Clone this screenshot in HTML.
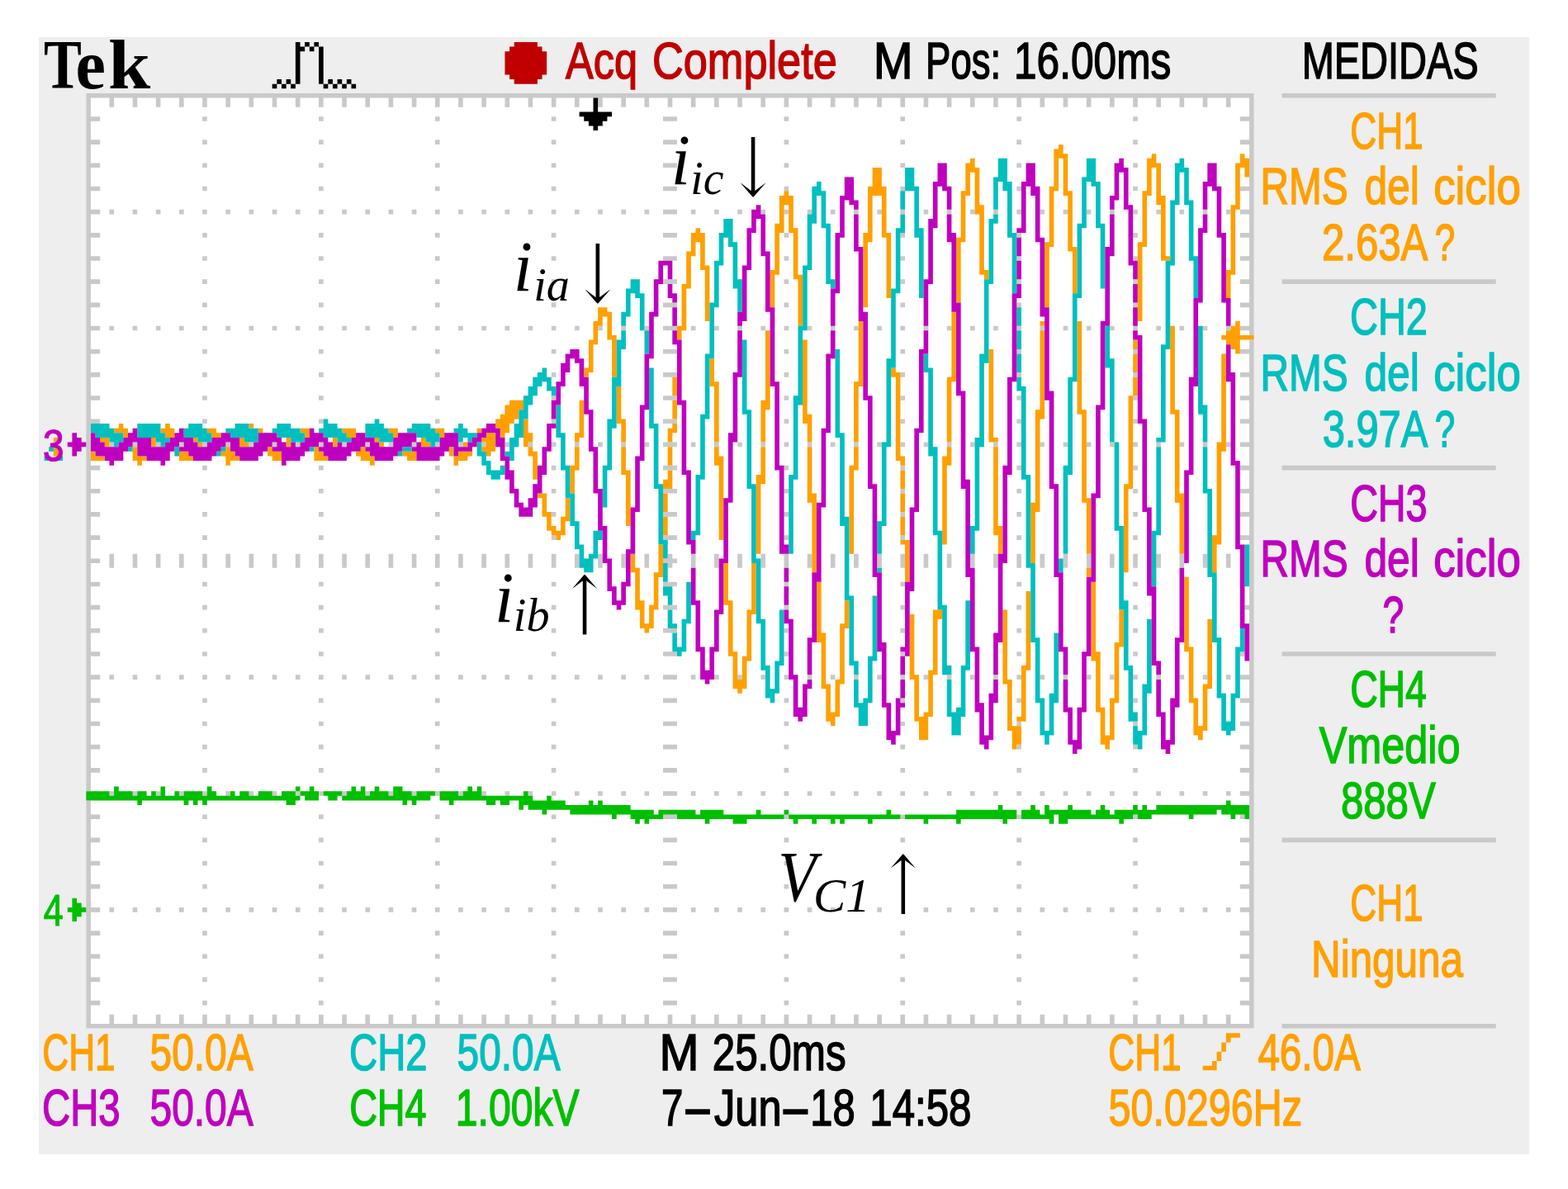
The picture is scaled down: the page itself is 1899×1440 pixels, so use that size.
<!DOCTYPE html>
<html lang="es"><head><meta charset="utf-8"><title>Tek</title>
<style>
html,body{margin:0;padding:0;background:#fff;overflow:hidden;}
svg{display:block;}
text{font-family:"Liberation Sans",sans-serif;font-size:63.4px;stroke-linejoin:miter;}
.ann{font-family:"Liberation Serif",serif;font-style:italic;stroke:none;}
.arr{font-family:"DejaVu Math TeX Gyre","DejaVu Sans",serif;}
.tek{font-family:"Liberation Serif",serif;font-weight:bold;stroke:none;}
</style></head>
<body>
<svg width="1899" height="1440" viewBox="0 0 1899 1440">
<rect x="47.06" y="44.9" width="1804.84" height="1352.9" fill="#eeeeee"/>
<g id="screen">
<g transform="translate(47.95 45.33) scale(5.635)">
<rect x="10" y="12" width="251" height="201" fill="#fff"/>
<path fill="#c9c9c9" d="M10 164h1v49h-1zM10 12h1v150h-1zM11 52h2v1h-2zM11 107h2v1h-2zM11 112h2v1h-2zM11 167h2v1h-2zM11 57h2v1h-2zM11 122h2v1h-2zM11 172h2v1h-2zM11 117h2v1h-2zM11 62h2v1h-2zM11 72h2v1h-2zM11 177h2v1h-2zM11 67h2v1h-2zM11 77h2v1h-2zM11 127h2v1h-2zM11 182h2v1h-2zM11 22h2v1h-2zM11 17h2v1h-2zM11 27h2v1h-2zM11 132h2v1h-2zM11 187h2v1h-2zM11 197h2v1h-2zM11 192h2v1h-2zM11 32h2v1h-2zM11 82h2v1h-2zM11 137h2v1h-2zM11 147h2v1h-2zM11 202h2v1h-2zM11 142h2v1h-2zM11 152h2v1h-2zM11 207h2v1h-2zM11 97h2v1h-2zM11 47h2v1h-2zM11 92h2v1h-2zM11 157h2v1h-2zM11 37h2v1h-2zM11 102h2v1h-2zM11 42h2v1h-2zM11 12h4v1h-4zM11 212h4v1h-4zM15 162h1v1h-1zM15 87h1v1h-1zM15 62h1v1h-1zM15 111h1v3h-1zM15 187h1v1h-1zM15 210h1v3h-1zM15 137h1v1h-1zM15 37h1v1h-1zM15 12h1v3h-1zM16 12h4v1h-4zM16 212h4v1h-4zM20 162h1v1h-1zM20 87h1v1h-1zM20 62h1v1h-1zM20 111h1v3h-1zM20 187h1v1h-1zM20 210h1v3h-1zM20 137h1v1h-1zM20 37h1v1h-1zM20 12h1v3h-1zM21 12h4v1h-4zM21 212h4v1h-4zM25 162h1v1h-1zM25 87h1v1h-1zM25 62h1v1h-1zM25 111h1v3h-1zM25 187h1v1h-1zM25 210h1v3h-1zM25 137h1v1h-1zM25 37h1v1h-1zM25 12h1v3h-1zM26 12h4v1h-4zM26 212h4v1h-4zM30 162h1v1h-1zM30 87h1v1h-1zM30 62h1v1h-1zM30 111h1v3h-1zM30 187h1v1h-1zM30 210h1v3h-1zM30 137h1v1h-1zM30 37h1v1h-1zM30 12h1v3h-1zM31 12h4v1h-4zM31 212h4v1h-4zM35 162h1v1h-1zM35 52h1v1h-1zM35 107h1v1h-1zM35 167h1v1h-1zM35 57h1v1h-1zM35 122h1v1h-1zM35 172h1v1h-1zM35 117h1v1h-1zM35 62h1v1h-1zM35 111h1v3h-1zM35 72h1v1h-1zM35 177h1v1h-1zM35 67h1v1h-1zM35 77h1v1h-1zM35 127h1v1h-1zM35 182h1v1h-1zM35 22h1v1h-1zM35 17h1v1h-1zM35 27h1v1h-1zM35 132h1v1h-1zM35 187h1v1h-1zM35 197h1v1h-1zM35 192h1v1h-1zM35 32h1v1h-1zM35 82h1v1h-1zM35 137h1v1h-1zM35 147h1v1h-1zM35 202h1v1h-1zM35 12h1v3h-1zM35 87h1v1h-1zM35 142h1v1h-1zM35 152h1v1h-1zM35 207h1v1h-1zM35 97h1v1h-1zM35 210h1v3h-1zM35 47h1v1h-1zM35 92h1v1h-1zM35 157h1v1h-1zM35 37h1v1h-1zM35 102h1v1h-1zM35 42h1v1h-1zM36 12h4v1h-4zM36 212h4v1h-4zM40 162h1v1h-1zM40 87h1v1h-1zM40 62h1v1h-1zM40 111h1v3h-1zM40 187h1v1h-1zM40 210h1v3h-1zM40 137h1v1h-1zM40 37h1v1h-1zM40 12h1v3h-1zM41 12h4v1h-4zM41 212h4v1h-4zM45 162h1v1h-1zM45 87h1v1h-1zM45 62h1v1h-1zM45 111h1v3h-1zM45 187h1v1h-1zM45 210h1v3h-1zM45 137h1v1h-1zM45 37h1v1h-1zM45 12h1v3h-1zM46 12h4v1h-4zM46 212h4v1h-4zM50 162h1v1h-1zM50 87h1v1h-1zM50 62h1v1h-1zM50 111h1v3h-1zM50 187h1v1h-1zM50 210h1v3h-1zM50 137h1v1h-1zM50 37h1v1h-1zM50 12h1v3h-1zM51 12h4v1h-4zM51 212h4v1h-4zM55 162h1v1h-1zM55 87h1v1h-1zM55 62h1v1h-1zM55 111h1v3h-1zM55 187h1v1h-1zM55 210h1v3h-1zM55 137h1v1h-1zM55 37h1v1h-1zM55 12h1v3h-1zM56 12h4v1h-4zM56 212h4v1h-4zM60 162h1v1h-1zM60 52h1v1h-1zM60 107h1v1h-1zM60 167h1v1h-1zM60 57h1v1h-1zM60 122h1v1h-1zM60 172h1v1h-1zM60 117h1v1h-1zM60 62h1v1h-1zM60 111h1v3h-1zM60 72h1v1h-1zM60 177h1v1h-1zM60 67h1v1h-1zM60 77h1v1h-1zM60 127h1v1h-1zM60 182h1v1h-1zM60 22h1v1h-1zM60 17h1v1h-1zM60 27h1v1h-1zM60 132h1v1h-1zM60 187h1v1h-1zM60 197h1v1h-1zM60 192h1v1h-1zM60 32h1v1h-1zM60 82h1v1h-1zM60 137h1v1h-1zM60 147h1v1h-1zM60 202h1v1h-1zM60 12h1v3h-1zM60 87h1v1h-1zM60 142h1v1h-1zM60 152h1v1h-1zM60 207h1v1h-1zM60 97h1v1h-1zM60 210h1v3h-1zM60 47h1v1h-1zM60 92h1v1h-1zM60 157h1v1h-1zM60 37h1v1h-1zM60 102h1v1h-1zM60 42h1v1h-1zM61 12h4v1h-4zM61 212h4v1h-4zM65 162h1v1h-1zM65 87h1v1h-1zM65 62h1v1h-1zM65 111h1v3h-1zM65 187h1v1h-1zM65 210h1v3h-1zM65 137h1v1h-1zM65 37h1v1h-1zM65 12h1v3h-1zM66 12h4v1h-4zM66 212h4v1h-4zM70 162h1v1h-1zM70 87h1v1h-1zM70 62h1v1h-1zM70 111h1v3h-1zM70 187h1v1h-1zM70 210h1v3h-1zM70 137h1v1h-1zM70 37h1v1h-1zM70 12h1v3h-1zM71 12h4v1h-4zM71 212h4v1h-4zM75 162h1v1h-1zM75 87h1v1h-1zM75 62h1v1h-1zM75 111h1v3h-1zM75 187h1v1h-1zM75 210h1v3h-1zM75 137h1v1h-1zM75 37h1v1h-1zM75 12h1v3h-1zM76 12h4v1h-4zM76 212h4v1h-4zM80 162h1v1h-1zM80 87h1v1h-1zM80 62h1v1h-1zM80 111h1v3h-1zM80 187h1v1h-1zM80 210h1v3h-1zM80 137h1v1h-1zM80 37h1v1h-1zM80 12h1v3h-1zM81 12h4v1h-4zM81 212h4v1h-4zM85 162h1v1h-1zM85 52h1v1h-1zM85 107h1v1h-1zM85 167h1v1h-1zM85 57h1v1h-1zM85 122h1v1h-1zM85 172h1v1h-1zM85 117h1v1h-1zM85 62h1v1h-1zM85 111h1v3h-1zM85 72h1v1h-1zM85 177h1v1h-1zM85 67h1v1h-1zM85 77h1v1h-1zM85 127h1v1h-1zM85 182h1v1h-1zM85 22h1v1h-1zM85 17h1v1h-1zM85 27h1v1h-1zM85 132h1v1h-1zM85 187h1v1h-1zM85 197h1v1h-1zM85 192h1v1h-1zM85 32h1v1h-1zM85 82h1v1h-1zM85 137h1v1h-1zM85 147h1v1h-1zM85 202h1v1h-1zM85 12h1v3h-1zM85 87h1v1h-1zM85 142h1v1h-1zM85 152h1v1h-1zM85 207h1v1h-1zM85 97h1v1h-1zM85 210h1v3h-1zM85 47h1v1h-1zM85 92h1v1h-1zM85 157h1v1h-1zM85 37h1v1h-1zM85 102h1v1h-1zM85 42h1v1h-1zM86 12h4v1h-4zM86 212h4v1h-4zM90 162h1v1h-1zM90 87h1v1h-1zM90 62h1v1h-1zM90 111h1v3h-1zM90 187h1v1h-1zM90 210h1v3h-1zM90 137h1v1h-1zM90 37h1v1h-1zM90 12h1v3h-1zM91 12h4v1h-4zM91 212h4v1h-4zM95 162h1v1h-1zM95 87h1v1h-1zM95 62h1v1h-1zM95 111h1v3h-1zM95 187h1v1h-1zM95 210h1v3h-1zM95 137h1v1h-1zM95 37h1v1h-1zM95 12h1v3h-1zM96 12h4v1h-4zM96 212h4v1h-4zM100 162h1v1h-1zM100 87h1v1h-1zM100 62h1v1h-1zM100 111h1v3h-1zM100 187h1v1h-1zM100 210h1v3h-1zM100 137h1v1h-1zM100 37h1v1h-1zM100 12h1v3h-1zM101 12h4v1h-4zM101 212h4v1h-4zM105 162h1v1h-1zM105 87h1v1h-1zM105 62h1v1h-1zM105 111h1v3h-1zM105 187h1v1h-1zM105 210h1v3h-1zM105 137h1v1h-1zM105 37h1v1h-1zM105 12h1v3h-1zM106 12h4v1h-4zM106 212h4v1h-4zM110 162h1v1h-1zM110 52h1v1h-1zM110 107h1v1h-1zM110 167h1v1h-1zM110 57h1v1h-1zM110 122h1v1h-1zM110 172h1v1h-1zM110 117h1v1h-1zM110 62h1v1h-1zM110 111h1v3h-1zM110 72h1v1h-1zM110 177h1v1h-1zM110 67h1v1h-1zM110 77h1v1h-1zM110 127h1v1h-1zM110 182h1v1h-1zM110 22h1v1h-1zM110 17h1v1h-1zM110 27h1v1h-1zM110 132h1v1h-1zM110 187h1v1h-1zM110 197h1v1h-1zM110 192h1v1h-1zM110 32h1v1h-1zM110 82h1v1h-1zM110 137h1v1h-1zM110 147h1v1h-1zM110 202h1v1h-1zM110 12h1v3h-1zM110 87h1v1h-1zM110 142h1v1h-1zM110 152h1v1h-1zM110 207h1v1h-1zM110 97h1v1h-1zM110 210h1v3h-1zM110 47h1v1h-1zM110 92h1v1h-1zM110 157h1v1h-1zM110 37h1v1h-1zM110 102h1v1h-1zM110 42h1v1h-1zM111 12h4v1h-4zM111 212h4v1h-4zM115 162h1v1h-1zM115 87h1v1h-1zM115 62h1v1h-1zM115 111h1v3h-1zM115 187h1v1h-1zM115 210h1v3h-1zM115 137h1v1h-1zM115 37h1v1h-1zM115 12h1v3h-1zM116 12h4v1h-4zM116 212h4v1h-4zM120 162h1v1h-1zM120 87h1v1h-1zM120 62h1v1h-1zM120 111h1v3h-1zM120 187h1v1h-1zM120 210h1v3h-1zM120 137h1v1h-1zM120 37h1v1h-1zM120 12h1v3h-1zM121 12h4v1h-4zM121 212h4v1h-4zM125 162h1v1h-1zM125 87h1v1h-1zM125 62h1v1h-1zM125 111h1v3h-1zM125 187h1v1h-1zM125 210h1v3h-1zM125 137h1v1h-1zM125 37h1v1h-1zM125 12h1v3h-1zM126 12h4v1h-4zM126 212h4v1h-4zM130 162h1v1h-1zM130 87h1v1h-1zM130 62h1v1h-1zM130 111h1v3h-1zM130 187h1v1h-1zM130 210h1v3h-1zM130 137h1v1h-1zM130 37h1v1h-1zM130 12h1v3h-1zM131 12h4v1h-4zM131 212h4v1h-4zM134 112h1v1h-1zM135 111h1v3h-1zM135 12h1v3h-1zM135 210h1v3h-1zM134 162h3v1h-3zM134 52h3v1h-3zM134 107h3v1h-3zM134 167h3v1h-3zM134 57h3v1h-3zM134 122h3v1h-3zM134 172h3v1h-3zM134 117h3v1h-3zM134 62h3v1h-3zM134 72h3v1h-3zM134 177h3v1h-3zM134 67h3v1h-3zM134 77h3v1h-3zM134 127h3v1h-3zM134 182h3v1h-3zM134 22h3v1h-3zM134 17h3v1h-3zM134 27h3v1h-3zM134 132h3v1h-3zM134 187h3v1h-3zM134 197h3v1h-3zM134 192h3v1h-3zM134 32h3v1h-3zM134 82h3v1h-3zM134 137h3v1h-3zM134 147h3v1h-3zM134 202h3v1h-3zM134 87h3v1h-3zM134 142h3v1h-3zM134 152h3v1h-3zM134 207h3v1h-3zM134 97h3v1h-3zM134 47h3v1h-3zM134 92h3v1h-3zM134 157h3v1h-3zM134 37h3v1h-3zM134 102h3v1h-3zM134 42h3v1h-3zM136 112h1v1h-1zM136 12h4v1h-4zM136 212h4v1h-4zM140 162h1v1h-1zM140 87h1v1h-1zM140 62h1v1h-1zM140 111h1v3h-1zM140 187h1v1h-1zM140 210h1v3h-1zM140 137h1v1h-1zM140 37h1v1h-1zM140 12h1v3h-1zM141 12h4v1h-4zM141 212h4v1h-4zM145 162h1v1h-1zM145 87h1v1h-1zM145 62h1v1h-1zM145 111h1v3h-1zM145 187h1v1h-1zM145 210h1v3h-1zM145 137h1v1h-1zM145 37h1v1h-1zM145 12h1v3h-1zM146 12h4v1h-4zM146 212h4v1h-4zM150 162h1v1h-1zM150 87h1v1h-1zM150 62h1v1h-1zM150 111h1v3h-1zM150 187h1v1h-1zM150 210h1v3h-1zM150 137h1v1h-1zM150 37h1v1h-1zM150 12h1v3h-1zM151 12h4v1h-4zM151 212h4v1h-4zM155 162h1v1h-1zM155 87h1v1h-1zM155 62h1v1h-1zM155 111h1v3h-1zM155 187h1v1h-1zM155 210h1v3h-1zM155 137h1v1h-1zM155 37h1v1h-1zM155 12h1v3h-1zM156 12h4v1h-4zM156 212h4v1h-4zM160 162h1v1h-1zM160 52h1v1h-1zM160 107h1v1h-1zM160 167h1v1h-1zM160 57h1v1h-1zM160 122h1v1h-1zM160 172h1v1h-1zM160 117h1v1h-1zM160 62h1v1h-1zM160 111h1v3h-1zM160 72h1v1h-1zM160 177h1v1h-1zM160 67h1v1h-1zM160 77h1v1h-1zM160 127h1v1h-1zM160 182h1v1h-1zM160 22h1v1h-1zM160 17h1v1h-1zM160 27h1v1h-1zM160 132h1v1h-1zM160 187h1v1h-1zM160 197h1v1h-1zM160 192h1v1h-1zM160 32h1v1h-1zM160 82h1v1h-1zM160 137h1v1h-1zM160 147h1v1h-1zM160 202h1v1h-1zM160 12h1v3h-1zM160 87h1v1h-1zM160 142h1v1h-1zM160 152h1v1h-1zM160 207h1v1h-1zM160 97h1v1h-1zM160 210h1v3h-1zM160 47h1v1h-1zM160 92h1v1h-1zM160 157h1v1h-1zM160 37h1v1h-1zM160 102h1v1h-1zM160 42h1v1h-1zM161 12h4v1h-4zM161 212h4v1h-4zM165 162h1v1h-1zM165 87h1v1h-1zM165 62h1v1h-1zM165 111h1v3h-1zM165 187h1v1h-1zM165 210h1v3h-1zM165 137h1v1h-1zM165 37h1v1h-1zM165 12h1v3h-1zM166 12h4v1h-4zM166 212h4v1h-4zM170 162h1v1h-1zM170 87h1v1h-1zM170 62h1v1h-1zM170 111h1v3h-1zM170 187h1v1h-1zM170 210h1v3h-1zM170 137h1v1h-1zM170 37h1v1h-1zM170 12h1v3h-1zM171 12h4v1h-4zM171 212h4v1h-4zM175 162h1v1h-1zM175 87h1v1h-1zM175 62h1v1h-1zM175 111h1v3h-1zM175 187h1v1h-1zM175 210h1v3h-1zM175 137h1v1h-1zM175 37h1v1h-1zM175 12h1v3h-1zM176 12h4v1h-4zM176 212h4v1h-4zM180 162h1v1h-1zM180 87h1v1h-1zM180 62h1v1h-1zM180 111h1v3h-1zM180 187h1v1h-1zM180 210h1v3h-1zM180 137h1v1h-1zM180 37h1v1h-1zM180 12h1v3h-1zM181 12h4v1h-4zM181 212h4v1h-4zM185 162h1v1h-1zM185 52h1v1h-1zM185 107h1v1h-1zM185 167h1v1h-1zM185 57h1v1h-1zM185 122h1v1h-1zM185 172h1v1h-1zM185 117h1v1h-1zM185 62h1v1h-1zM185 111h1v3h-1zM185 72h1v1h-1zM185 177h1v1h-1zM185 67h1v1h-1zM185 77h1v1h-1zM185 127h1v1h-1zM185 182h1v1h-1zM185 22h1v1h-1zM185 17h1v1h-1zM185 27h1v1h-1zM185 132h1v1h-1zM185 187h1v1h-1zM185 197h1v1h-1zM185 192h1v1h-1zM185 32h1v1h-1zM185 82h1v1h-1zM185 137h1v1h-1zM185 147h1v1h-1zM185 202h1v1h-1zM185 12h1v3h-1zM185 87h1v1h-1zM185 142h1v1h-1zM185 152h1v1h-1zM185 207h1v1h-1zM185 97h1v1h-1zM185 210h1v3h-1zM185 47h1v1h-1zM185 92h1v1h-1zM185 157h1v1h-1zM185 37h1v1h-1zM185 102h1v1h-1zM185 42h1v1h-1zM186 12h4v1h-4zM186 212h4v1h-4zM190 162h1v1h-1zM190 87h1v1h-1zM190 62h1v1h-1zM190 111h1v3h-1zM190 187h1v1h-1zM190 210h1v3h-1zM190 137h1v1h-1zM190 37h1v1h-1zM190 12h1v3h-1zM191 12h4v1h-4zM191 212h4v1h-4zM195 162h1v1h-1zM195 87h1v1h-1zM195 62h1v1h-1zM195 111h1v3h-1zM195 187h1v1h-1zM195 210h1v3h-1zM195 137h1v1h-1zM195 37h1v1h-1zM195 12h1v3h-1zM196 12h4v1h-4zM196 212h4v1h-4zM200 162h1v1h-1zM200 87h1v1h-1zM200 62h1v1h-1zM200 111h1v3h-1zM200 187h1v1h-1zM200 210h1v3h-1zM200 137h1v1h-1zM200 37h1v1h-1zM200 12h1v3h-1zM201 12h4v1h-4zM201 212h4v1h-4zM205 162h1v1h-1zM205 87h1v1h-1zM205 62h1v1h-1zM205 111h1v3h-1zM205 187h1v1h-1zM205 210h1v3h-1zM205 137h1v1h-1zM205 37h1v1h-1zM205 12h1v3h-1zM206 12h4v1h-4zM206 212h4v1h-4zM210 162h1v1h-1zM210 52h1v1h-1zM210 107h1v1h-1zM210 167h1v1h-1zM210 57h1v1h-1zM210 122h1v1h-1zM210 172h1v1h-1zM210 117h1v1h-1zM210 62h1v1h-1zM210 111h1v3h-1zM210 72h1v1h-1zM210 177h1v1h-1zM210 67h1v1h-1zM210 77h1v1h-1zM210 127h1v1h-1zM210 182h1v1h-1zM210 22h1v1h-1zM210 17h1v1h-1zM210 27h1v1h-1zM210 132h1v1h-1zM210 187h1v1h-1zM210 197h1v1h-1zM210 192h1v1h-1zM210 32h1v1h-1zM210 82h1v1h-1zM210 137h1v1h-1zM210 147h1v1h-1zM210 202h1v1h-1zM210 12h1v3h-1zM210 87h1v1h-1zM210 142h1v1h-1zM210 152h1v1h-1zM210 207h1v1h-1zM210 97h1v1h-1zM210 210h1v3h-1zM210 47h1v1h-1zM210 92h1v1h-1zM210 157h1v1h-1zM210 37h1v1h-1zM210 102h1v1h-1zM210 42h1v1h-1zM211 12h4v1h-4zM211 212h4v1h-4zM215 162h1v1h-1zM215 87h1v1h-1zM215 62h1v1h-1zM215 111h1v3h-1zM215 187h1v1h-1zM215 210h1v3h-1zM215 137h1v1h-1zM215 37h1v1h-1zM215 12h1v3h-1zM216 12h4v1h-4zM216 212h4v1h-4zM220 162h1v1h-1zM220 87h1v1h-1zM220 62h1v1h-1zM220 111h1v3h-1zM220 187h1v1h-1zM220 210h1v3h-1zM220 137h1v1h-1zM220 37h1v1h-1zM220 12h1v3h-1zM221 12h4v1h-4zM221 212h4v1h-4zM225 162h1v1h-1zM225 87h1v1h-1zM225 62h1v1h-1zM225 111h1v3h-1zM225 187h1v1h-1zM225 210h1v3h-1zM225 137h1v1h-1zM225 37h1v1h-1zM225 12h1v3h-1zM226 12h4v1h-4zM226 212h4v1h-4zM230 162h1v1h-1zM230 87h1v1h-1zM230 62h1v1h-1zM230 111h1v3h-1zM230 187h1v1h-1zM230 210h1v3h-1zM230 137h1v1h-1zM230 37h1v1h-1zM230 12h1v3h-1zM231 12h4v1h-4zM231 212h4v1h-4zM235 162h1v1h-1zM235 52h1v1h-1zM235 107h1v1h-1zM235 167h1v1h-1zM235 57h1v1h-1zM235 122h1v1h-1zM235 172h1v1h-1zM235 117h1v1h-1zM235 62h1v1h-1zM235 111h1v3h-1zM235 72h1v1h-1zM235 177h1v1h-1zM235 67h1v1h-1zM235 77h1v1h-1zM235 127h1v1h-1zM235 182h1v1h-1zM235 22h1v1h-1zM235 17h1v1h-1zM235 27h1v1h-1zM235 132h1v1h-1zM235 187h1v1h-1zM235 197h1v1h-1zM235 192h1v1h-1zM235 32h1v1h-1zM235 82h1v1h-1zM235 137h1v1h-1zM235 147h1v1h-1zM235 202h1v1h-1zM235 12h1v3h-1zM235 87h1v1h-1zM235 142h1v1h-1zM235 152h1v1h-1zM235 207h1v1h-1zM235 97h1v1h-1zM235 210h1v3h-1zM235 47h1v1h-1zM235 92h1v1h-1zM235 157h1v1h-1zM235 37h1v1h-1zM235 102h1v1h-1zM235 42h1v1h-1zM236 12h4v1h-4zM236 212h4v1h-4zM240 162h1v1h-1zM240 87h1v1h-1zM240 62h1v1h-1zM240 111h1v3h-1zM240 187h1v1h-1zM240 210h1v3h-1zM240 137h1v1h-1zM240 37h1v1h-1zM240 12h1v3h-1zM241 12h4v1h-4zM241 212h4v1h-4zM245 162h1v1h-1zM245 87h1v1h-1zM245 62h1v1h-1zM245 111h1v3h-1zM245 187h1v1h-1zM245 210h1v3h-1zM245 137h1v1h-1zM245 37h1v1h-1zM245 12h1v3h-1zM246 12h4v1h-4zM246 212h4v1h-4zM250 162h1v1h-1zM250 87h1v1h-1zM250 62h1v1h-1zM250 111h1v3h-1zM250 187h1v1h-1zM250 210h1v3h-1zM250 137h1v1h-1zM250 37h1v1h-1zM250 12h1v3h-1zM251 12h4v1h-4zM251 212h4v1h-4zM255 162h1v1h-1zM255 87h1v1h-1zM255 62h1v1h-1zM255 111h1v3h-1zM255 187h1v1h-1zM255 210h1v3h-1zM255 137h1v1h-1zM255 37h1v1h-1zM255 12h1v3h-1zM258 167h1v1h-1zM258 132h1v1h-1zM256 12h4v1h-4zM256 212h4v1h-4zM258 162h2v1h-2zM258 52h2v1h-2zM258 107h2v1h-2zM258 57h2v1h-2zM258 172h2v1h-2zM258 62h2v1h-2zM258 72h2v1h-2zM258 177h2v1h-2zM258 67h2v1h-2zM258 77h2v1h-2zM258 182h2v1h-2zM258 22h2v1h-2zM258 17h2v1h-2zM258 187h2v1h-2zM258 197h2v1h-2zM258 192h2v1h-2zM258 32h2v1h-2zM258 82h2v1h-2zM258 137h2v1h-2zM258 147h2v1h-2zM258 202h2v1h-2zM258 87h2v1h-2zM258 142h2v1h-2zM258 152h2v1h-2zM258 207h2v1h-2zM258 97h2v1h-2zM258 47h2v1h-2zM258 92h2v1h-2zM258 157h2v1h-2zM258 37h2v1h-2zM258 102h2v1h-2zM258 42h2v1h-2zM259 122h1v1h-1zM260 12h1v52h-1zM260 65h1v148h-1zM267 132h46v1h-46zM267 52h46v1h-46zM267 92h46v1h-46zM267 12h46v1h-46zM267 212h46v1h-46zM267 172h46v1h-46z"/>
<path fill="#ffa000" d="M3 88h1v2h-1zM3 86h1v1h-1zM11 89h1v2h-1zM12 90h2v1h-2zM13 86h1v1h-1zM14 86h1v2h-1zM16 84h1v1h-1zM17 83h1v2h-1zM18 84h1v2h-1zM20 88h1v3h-1zM21 90h1v2h-1zM22 90h1v1h-1zM24 86h1v2h-1zM26 84h1v1h-1zM27 83h1v3h-1zM28 84h1v2h-1zM30 89h2v2h-2zM32 90h1v1h-1zM33 86h1v1h-1zM34 87h1v1h-1zM36 84h1v1h-1zM37 84h1v2h-1zM38 85h1v1h-1zM39 89h1v1h-1zM40 88h1v4h-1zM41 89h1v2h-1zM42 90h1v1h-1zM43 86h1v2h-1zM44 87h1v1h-1zM45 83h1v1h-1zM47 84h1v1h-1zM49 88h1v2h-1zM50 89h2v2h-2zM53 86h1v2h-1zM56 84h1v1h-1zM57 84h1v2h-1zM59 88h1v3h-1zM60 89h1v2h-1zM61 90h1v1h-1zM63 86h1v2h-1zM65 84h1v1h-1zM66 84h2v2h-2zM68 89h1v1h-1zM69 88h1v3h-1zM70 89h1v2h-1zM71 90h1v2h-1zM72 86h1v1h-1zM73 87h1v1h-1zM75 84h1v1h-1zM76 84h1v2h-1zM78 89h1v1h-1zM79 89h2v2h-2zM82 86h1v2h-1zM83 87h1v1h-1zM85 84h1v1h-1zM86 84h1v2h-1zM88 88h1v2h-1zM89 90h1v2h-1zM90 89h2v2h-2zM91 87h1v1h-1zM92 89h1v1h-1zM94 84h1v1h-1zM95 86h1v1h-1zM95 88h1v1h-1zM96 85h1v5h-1zM97 85h1v4h-1zM98 82h1v2h-1zM99 81h1v5h-1zM100 79h1v6h-1zM101 78h1v5h-1zM102 78h1v4h-1zM103 78h1v2h-1zM104 82h1v6h-1zM105 88h1v2h-1zM105 85h1v2h-1zM106 89h1v6h-1zM107 98h1v1h-1zM108 98h1v5h-1zM109 102h1v4h-1zM110 105h1v2h-1zM111 106h1v2h-1zM112 103h1v4h-1zM113 99h1v5h-1zM114 92h1v6h-1zM115 85h1v2h-1zM115 88h1v5h-1zM116 78h1v8h-1zM117 71h1v2h-1zM118 65h1v7h-1zM119 61h1v5h-1zM120 58h1v4h-1zM121 58h1v2h-1zM122 59h1v6h-1zM123 64h1v9h-1zM124 75h1v8h-1zM125 82h1v5h-1zM125 88h1v6h-1zM126 93h1v12h-1zM127 111h1v4h-1zM128 114h1v9h-1zM129 121h1v6h-1zM130 126h1v2h-1zM131 122h1v5h-1zM132 115h1v8h-1zM133 109h1v7h-1zM134 103h1v4h-1zM134 98h1v4h-1zM134 95h1v2h-1zM135 84h1v3h-1zM135 93h1v4h-1zM135 88h1v4h-1zM136 73h1v4h-1zM136 83h1v2h-1zM136 78h1v4h-1zM137 62h1v3h-1zM138 53h1v10h-1zM139 46h1v8h-1zM140 42h1v5h-1zM141 41h1v3h-1zM142 42h1v8h-1zM143 49h1v12h-1zM144 69h1v6h-1zM145 74h1v13h-1zM145 88h1v4h-1zM146 90h1v18h-1zM147 113h1v9h-1zM148 121h1v12h-1zM149 132h1v8h-1zM150 138h1v3h-1zM151 133h1v7h-1zM152 123h1v11h-1zM153 113h1v11h-1zM154 94h1v17h-1zM155 88h1v8h-1zM155 78h1v9h-1zM156 63h1v17h-1zM157 50h1v8h-1zM158 40h1v11h-1zM159 34h1v8h-1zM160 33h1v3h-1zM161 34h1v8h-1zM162 41h1v11h-1zM163 51h1v11h-1zM164 65h1v18h-1zM165 88h1v12h-1zM165 81h1v6h-1zM166 98h1v17h-1zM167 117h1v13h-1zM168 128h1v12h-1zM169 139h1v8h-1zM170 145h1v3h-1zM171 138h1v8h-1zM172 126h1v13h-1zM173 121h1v6h-1zM174 92h1v19h-1zM175 74h1v13h-1zM175 88h1v5h-1zM176 61h1v14h-1zM177 42h1v16h-1zM178 32h1v12h-1zM179 28h2v6h-2zM181 32h1v11h-1zM182 42h1v14h-1zM183 71h1v2h-1zM184 72h1v19h-1zM185 90h1v2h-1zM185 98h1v4h-1zM185 108h1v1h-1zM185 103h1v4h-1zM185 93h1v4h-1zM186 108h1v9h-1zM187 124h1v14h-1zM188 137h1v10h-1zM189 146h1v5h-1zM190 145h1v6h-1zM191 136h1v10h-1zM192 123h1v14h-1zM193 123h1v2h-1zM194 90h1v19h-1zM195 88h1v4h-1zM195 73h1v14h-1zM196 59h1v15h-1zM197 43h1v14h-1zM198 33h1v11h-1zM199 27h1v7h-1zM200 26h1v3h-1zM201 28h1v10h-1zM202 36h1v15h-1zM203 50h1v2h-1zM204 67h1v20h-1zM205 88h1v19h-1zM205 86h1v1h-1zM206 105h1v6h-1zM207 123h1v16h-1zM208 138h1v11h-1zM209 148h1v5h-1zM210 148h1v4h-1zM210 146h1v1h-1zM211 135h1v12h-1zM212 119h1v17h-1zM213 100h1v13h-1zM214 80h1v22h-1zM215 61h1v1h-1zM215 63h1v19h-1zM216 44h1v14h-1zM217 32h1v13h-1zM218 24h1v9h-1zM219 23h1v3h-1zM220 25h1v9h-1zM221 33h1v13h-1zM222 45h1v10h-1zM223 61h1v20h-1zM224 80h1v20h-1zM225 114h1v2h-1zM225 99h1v12h-1zM226 117h1v17h-1zM227 132h1v13h-1zM228 144h1v8h-1zM229 150h1v3h-1zM230 142h1v9h-1zM231 130h1v13h-1zM232 123h1v8h-1zM233 96h1v19h-1zM234 77h1v20h-1zM235 73h1v4h-1zM235 65h1v2h-1zM235 68h1v4h-1zM236 44h1v17h-1zM237 33h1v12h-1zM238 26h1v8h-1zM239 25h1v3h-1zM240 27h1v9h-1zM241 34h1v14h-1zM242 47h1v1h-1zM243 62h1v19h-1zM244 80h1v20h-1zM245 98h1v13h-1zM246 116h1v16h-1zM247 131h1v12h-1zM248 142h1v8h-1zM249 148h1v3h-1zM250 139h1v10h-1zM250 221h2v1h-2zM251 125h1v15h-1zM252 220h1v2h-1zM252 107h1v8h-1zM253 87h1v22h-1zM253 218h1v2h-1zM254 68h1v21h-1zM254 64h1v1h-1zM254 216h1v2h-1zM255 50h1v6h-1zM255 63h1v3h-1zM255 214h1v2h-1zM256 62h1v5h-1zM256 36h1v15h-1zM256 214h2v1h-2zM257 27h1v10h-1zM257 61h1v7h-1zM258 25h1v3h-1zM259 26h1v4h-1zM258 64h3v1h-3z"/>
<path fill="#00bfbf" d="M1 90h1v1h-1zM2 88h1v1h-1zM4 90h1v1h-1zM11 83h1v2h-1zM12 83h3v3h-3zM15 84h1v3h-1zM16 85h1v3h-1zM17 85h1v2h-1zM19 88h1v1h-1zM21 83h4v3h-4zM25 83h1v4h-1zM26 85h1v3h-1zM27 86h1v1h-1zM29 88h1v2h-1zM31 84h1v2h-1zM32 83h2v3h-2zM34 83h1v4h-1zM35 84h1v3h-1zM36 85h1v2h-1zM38 89h1v1h-1zM39 88h1v1h-1zM40 84h1v1h-1zM41 84h1v2h-1zM42 83h2v3h-2zM44 83h1v4h-1zM45 84h2v3h-2zM50 84h1v1h-1zM51 83h3v3h-3zM54 84h2v3h-2zM56 85h1v2h-1zM58 88h1v1h-1zM60 84h1v1h-1zM61 82h1v4h-1zM62 83h2v3h-2zM64 84h1v3h-1zM65 85h1v2h-1zM66 86h1v1h-1zM70 83h2v3h-2zM72 82h1v4h-1zM73 83h1v4h-1zM74 84h1v3h-1zM75 85h1v2h-1zM77 89h1v1h-1zM78 88h2v1h-2zM79 84h1v1h-1zM80 83h1v2h-1zM81 83h2v3h-2zM83 83h1v4h-1zM84 84h1v4h-1zM85 85h1v2h-1zM89 84h1v1h-1zM90 83h1v4h-1zM91 84h1v2h-1zM92 85h1v2h-1zM93 85h1v1h-1zM94 87h1v3h-1zM95 89h1v3h-1zM96 91h1v3h-1zM97 93h2v2h-2zM99 92h1v2h-1zM100 89h1v1h-1zM101 86h1v5h-1zM102 83h1v5h-1zM103 80h1v6h-1zM104 77h1v5h-1zM105 75h1v4h-1zM106 73h1v4h-1zM107 72h1v3h-1zM108 71h1v3h-1zM109 73h1v3h-1zM110 75h1v2h-1zM111 79h1v7h-1zM112 85h1v8h-1zM113 92h1v7h-1zM114 98h1v7h-1zM115 104h1v6h-1zM116 109h1v5h-1zM117 112h1v3h-1zM118 111h1v4h-1zM119 106h1v6h-1zM120 106h1v2h-1zM121 92h1v9h-1zM122 82h1v11h-1zM123 73h1v11h-1zM124 65h1v10h-1zM125 59h1v3h-1zM125 63h1v4h-1zM126 54h1v6h-1zM127 52h1v3h-1zM128 52h1v4h-1zM129 55h1v8h-1zM130 63h1v5h-1zM131 71h1v13h-1zM132 83h1v14h-1zM133 96h1v13h-1zM134 113h1v4h-1zM134 108h1v4h-1zM134 118h1v2h-1zM135 123h1v4h-1zM135 118h1v4h-1zM136 128h1v4h-1zM136 126h1v1h-1zM137 131h1v2h-1zM138 125h1v7h-1zM139 117h1v9h-1zM140 106h1v2h-1zM141 94h1v13h-1zM142 81h1v14h-1zM143 68h1v14h-1zM144 57h1v12h-1zM145 48h1v10h-1zM146 42h1v7h-1zM147 39h1v4h-1zM148 39h1v6h-1zM149 44h1v10h-1zM150 52h1v7h-1zM151 65h1v16h-1zM152 80h1v17h-1zM153 96h1v17h-1zM154 112h1v14h-1zM155 125h1v11h-1zM156 135h1v7h-1zM157 140h1v3h-1zM158 134h1v7h-1zM159 123h1v12h-1zM161 94h1v17h-1zM162 77h1v18h-1zM163 62h1v17h-1zM164 49h1v14h-1zM165 38h1v12h-1zM166 32h1v8h-1zM167 31h1v3h-1zM168 33h1v8h-1zM169 40h1v13h-1zM170 52h1v2h-1zM171 67h1v19h-1zM172 85h1v20h-1zM173 103h1v18h-1zM174 120h1v15h-1zM175 138h1v6h-1zM175 134h1v3h-1zM176 143h1v5h-1zM177 142h1v6h-1zM178 133h1v10h-1zM179 120h1v14h-1zM180 114h1v1h-1zM180 104h1v7h-1zM181 87h1v18h-1zM182 69h1v19h-1zM183 54h1v17h-1zM184 41h1v14h-1zM185 38h1v4h-1zM185 33h1v4h-1zM186 28h2v5h-2zM188 32h1v11h-1zM189 41h1v15h-1zM190 68h1v4h-1zM191 71h1v19h-1zM192 88h1v19h-1zM193 106h1v17h-1zM194 122h1v15h-1zM195 138h1v8h-1zM195 135h1v2h-1zM196 145h1v5h-1zM197 144h1v6h-1zM198 135h1v11h-1zM199 121h1v15h-1zM200 105h1v6h-1zM201 86h1v20h-1zM202 68h1v20h-1zM203 52h1v18h-1zM204 39h1v14h-1zM205 30h1v7h-1zM205 38h1v2h-1zM206 26h1v5h-1zM207 26h1v7h-1zM208 31h1v12h-1zM209 42h1v13h-1zM210 58h1v4h-1zM210 73h1v3h-1zM210 68h1v4h-1zM210 63h1v4h-1zM211 75h1v20h-1zM212 94h1v20h-1zM213 113h1v17h-1zM214 129h1v14h-1zM215 142h1v8h-1zM216 149h1v3h-1zM217 141h1v9h-1zM218 128h1v15h-1zM219 112h1v3h-1zM220 92h1v19h-1zM221 73h1v21h-1zM222 55h1v19h-1zM223 40h1v16h-1zM224 30h1v11h-1zM225 26h1v5h-1zM226 26h1v6h-1zM227 31h1v10h-1zM228 40h1v14h-1zM229 62h1v9h-1zM230 69h1v18h-1zM231 87h1v19h-1zM232 105h1v18h-1zM233 121h1v15h-1zM234 135h1v12h-1zM235 148h1v4h-1zM235 145h1v2h-1zM236 149h1v4h-1zM237 139h1v11h-1zM238 125h1v16h-1zM239 106h1v12h-1zM240 88h1v19h-1zM240 86h1v1h-1zM241 66h1v21h-1zM242 48h1v19h-1zM243 35h1v14h-1zM244 27h1v9h-1zM245 26h1v3h-1zM246 28h1v8h-1zM247 35h1v13h-1zM248 47h1v9h-1zM249 62h1v19h-1zM250 79h1v8h-1zM250 88h1v10h-1zM251 97h1v19h-1zM252 115h1v15h-1zM253 129h1v13h-1zM254 141h1v8h-1zM255 147h1v3h-1zM256 141h1v8h-1zM257 131h1v11h-1zM258 127h1v5h-1zM259 109h1v9h-1z"/>
<path fill="#bf00bf" d="M6 87h1v1h-1zM7 85h1v5h-1zM8 86h1v3h-1zM9 87h1v1h-1zM11 85h1v4h-1zM12 86h1v4h-1zM13 87h1v3h-1zM14 88h1v3h-1zM15 88h1v4h-1zM16 88h1v3h-1zM17 87h1v4h-1zM18 86h1v3h-1zM19 85h1v3h-1zM20 84h1v3h-1zM21 86h2v4h-2zM23 86h1v5h-1zM24 88h2v3h-2zM26 88h1v4h-1zM27 87h1v4h-1zM28 86h1v3h-1zM29 85h1v3h-1zM30 84h1v3h-1zM30 88h1v1h-1zM31 86h1v3h-1zM32 86h1v4h-1zM33 87h1v4h-1zM34 88h2v3h-2zM36 87h1v4h-1zM37 86h1v4h-1zM38 86h1v3h-1zM39 85h1v3h-1zM40 85h1v2h-1zM41 86h1v3h-1zM42 86h1v4h-1zM43 88h3v3h-3zM46 87h1v4h-1zM47 85h1v5h-1zM48 85h1v4h-1zM49 85h1v3h-1zM50 85h1v2h-1zM50 88h1v1h-1zM51 86h1v3h-1zM52 87h1v5h-1zM53 88h1v3h-1zM54 87h1v4h-1zM55 88h1v3h-1zM56 87h1v3h-1zM57 86h1v3h-1zM58 84h1v4h-1zM59 85h1v3h-1zM60 85h1v2h-1zM60 88h1v1h-1zM61 86h1v4h-1zM62 87h1v4h-1zM63 88h1v3h-1zM64 87h1v4h-1zM65 88h1v3h-1zM66 87h1v3h-1zM67 86h1v3h-1zM68 85h1v4h-1zM69 85h1v3h-1zM70 86h1v1h-1zM70 88h1v1h-1zM71 86h1v4h-1zM72 87h1v4h-1zM73 88h3v3h-3zM76 86h1v4h-1zM77 85h1v4h-1zM78 85h2v3h-2zM80 85h1v2h-1zM80 88h1v1h-1zM81 87h1v4h-1zM82 88h4v3h-4zM86 86h1v4h-1zM87 85h1v4h-1zM88 85h1v3h-1zM89 85h1v5h-1zM90 88h2v1h-2zM92 87h1v2h-1zM93 86h1v2h-1zM94 85h1v2h-1zM95 84h1v2h-1zM96 83h2v2h-2zM98 84h1v4h-1zM99 86h1v5h-1zM100 90h1v5h-1zM101 93h1v5h-1zM102 97h1v4h-1zM103 100h1v3h-1zM104 101h1v2h-1zM105 99h1v4h-1zM106 96h1v5h-1zM107 92h1v6h-1zM108 88h1v6h-1zM109 83h1v6h-1zM110 83h1v1h-1zM110 78h1v4h-1zM111 74h1v5h-1zM112 70h1v5h-1zM113 68h1v4h-1zM114 67h1v2h-1zM115 67h1v3h-1zM116 69h1v6h-1zM117 73h1v8h-1zM118 80h1v9h-1zM119 88h1v10h-1zM120 97h1v9h-1zM121 105h1v8h-1zM122 112h1v7h-1zM123 118h1v4h-1zM124 121h1v2h-1zM125 117h1v5h-1zM126 110h1v8h-1zM127 101h1v10h-1zM128 90h1v12h-1zM129 79h1v12h-1zM130 68h1v12h-1zM131 59h1v10h-1zM132 52h1v8h-1zM133 48h1v5h-1zM134 48h1v1h-1zM135 53h1v3h-1zM135 48h1v4h-1zM136 58h1v4h-1zM136 63h1v3h-1zM136 55h1v2h-1zM137 65h1v14h-1zM138 78h1v16h-1zM139 93h1v16h-1zM140 114h1v8h-1zM140 108h1v3h-1zM141 121h1v11h-1zM142 131h1v7h-1zM143 136h1v3h-1zM144 131h1v7h-1zM145 123h1v9h-1zM146 112h1v12h-1zM147 99h1v14h-1zM148 85h1v15h-1zM149 72h1v15h-1zM150 59h1v3h-1zM150 63h1v10h-1zM151 49h1v12h-1zM152 41h1v9h-1zM153 37h1v5h-1zM154 36h1v3h-1zM155 38h1v9h-1zM156 46h1v13h-1zM157 58h1v17h-1zM158 74h1v19h-1zM159 92h1v19h-1zM160 114h1v3h-1zM160 118h1v4h-1zM160 109h1v2h-1zM160 123h1v3h-1zM161 125h1v13h-1zM162 137h1v9h-1zM163 144h1v3h-1zM164 139h1v7h-1zM165 138h1v2h-1zM165 129h1v8h-1zM166 115h1v15h-1zM167 100h1v17h-1zM168 84h1v17h-1zM169 68h1v17h-1zM170 63h1v6h-1zM170 54h1v8h-1zM171 42h1v13h-1zM172 34h1v9h-1zM173 30h1v5h-1zM174 30h1v6h-1zM175 35h1v2h-1zM175 38h1v8h-1zM176 45h1v16h-1zM177 59h1v19h-1zM178 77h1v20h-1zM179 96h1v20h-1zM180 115h1v17h-1zM181 130h1v14h-1zM182 143h1v8h-1zM183 149h1v3h-1zM184 142h1v8h-1zM185 133h1v4h-1zM185 131h1v1h-1zM185 143h1v1h-1zM185 138h1v4h-1zM186 117h1v16h-1zM187 101h1v18h-1zM188 84h1v18h-1zM189 67h1v18h-1zM190 63h1v5h-1zM190 52h1v10h-1zM191 39h1v14h-1zM192 31h1v10h-1zM193 27h1v5h-1zM194 27h1v6h-1zM195 38h1v6h-1zM195 32h1v5h-1zM196 42h1v17h-1zM197 57h1v20h-1zM198 76h1v21h-1zM199 95h1v21h-1zM200 114h1v18h-1zM201 131h1v14h-1zM202 143h1v9h-1zM203 150h1v3h-1zM204 141h1v10h-1zM205 128h1v9h-1zM205 138h1v5h-1zM206 111h1v19h-1zM207 92h1v21h-1zM208 73h1v21h-1zM209 55h1v19h-1zM210 53h1v3h-1zM210 41h1v1h-1zM210 48h1v4h-1zM210 43h1v4h-1zM211 31h1v11h-1zM212 27h1v5h-1zM213 27h1v7h-1zM214 32h1v12h-1zM215 43h1v17h-1zM216 58h1v20h-1zM217 76h1v21h-1zM218 96h1v20h-1zM219 115h1v17h-1zM220 131h1v6h-1zM220 138h1v7h-1zM221 144h1v8h-1zM222 151h1v3h-1zM223 144h1v9h-1zM224 132h1v13h-1zM225 116h1v17h-1zM226 98h1v19h-1zM227 79h1v20h-1zM228 61h1v19h-1zM229 45h1v17h-1zM230 38h1v9h-1zM230 34h1v3h-1zM231 27h1v8h-1zM232 26h1v3h-1zM233 28h1v9h-1zM234 36h1v13h-1zM235 58h1v4h-1zM235 53h1v4h-1zM235 48h1v4h-1zM235 63h1v2h-1zM236 64h1v19h-1zM237 82h1v20h-1zM238 101h1v19h-1zM239 118h1v17h-1zM240 134h1v3h-1zM240 138h1v8h-1zM241 145h1v8h-1zM242 151h1v3h-1zM243 142h1v10h-1zM244 129h1v15h-1zM245 114h1v16h-1zM246 93h1v20h-1zM247 73h1v21h-1zM248 56h1v19h-1zM249 41h1v16h-1zM250 38h1v4h-1zM250 31h1v6h-1zM251 27h1v5h-1zM252 27h1v6h-1zM253 32h1v11h-1zM254 42h1v15h-1zM255 66h1v8h-1zM255 56h1v6h-1zM256 72h1v20h-1zM257 91h1v19h-1zM258 109h1v18h-1zM259 126h1v8h-1z"/>
<path fill="#00bf00" d="M6 187h1v1h-1zM7 185h1v5h-1zM8 186h1v3h-1zM9 187h1v1h-1zM10 162h5v2h-5zM15 163h1v1h-1zM16 161h1v3h-1zM17 162h3v2h-3zM20 163h1v1h-1zM21 162h1v3h-1zM22 162h1v2h-1zM23 163h1v1h-1zM24 162h1v2h-1zM25 163h1v1h-1zM26 161h1v3h-1zM27 163h2v1h-2zM29 162h1v2h-1zM30 163h1v1h-1zM31 162h1v3h-1zM32 162h1v2h-1zM33 162h1v3h-1zM34 162h1v2h-1zM35 163h1v2h-1zM36 161h1v3h-1zM37 162h1v2h-1zM38 163h3v1h-3zM41 162h1v2h-1zM42 163h1v1h-1zM43 162h2v2h-2zM45 163h2v1h-2zM47 162h3v2h-3zM50 163h2v1h-2zM52 162h1v2h-1zM53 162h2v3h-2zM55 161h1v1h-1zM55 163h1v1h-1zM56 162h1v1h-1zM57 162h1v2h-1zM58 161h1v3h-1zM59 162h1v2h-1zM61 162h1v1h-1zM62 162h2v2h-2zM64 162h1v1h-1zM65 163h1v1h-1zM66 162h1v2h-1zM67 161h1v3h-1zM68 162h1v2h-1zM69 161h1v3h-1zM70 163h1v1h-1zM71 162h1v2h-1zM72 161h1v3h-1zM73 162h2v2h-2zM75 163h1v1h-1zM76 161h2v3h-2zM78 162h1v3h-1zM79 162h1v2h-1zM80 163h1v2h-1zM81 162h3v2h-3zM84 162h1v1h-1zM86 162h2v2h-2zM88 162h1v3h-1zM89 162h1v2h-1zM90 163h1v1h-1zM91 162h1v2h-1zM92 161h1v3h-1zM93 162h1v2h-1zM94 161h1v3h-1zM95 163h1v1h-1zM96 163h2v2h-2zM98 163h1v1h-1zM99 163h2v2h-2zM101 163h2v1h-2zM103 163h1v3h-1zM104 162h1v3h-1zM105 163h1v3h-1zM106 164h2v2h-2zM108 164h1v3h-1zM109 163h1v3h-1zM110 164h3v2h-3zM113 165h1v1h-1zM114 165h4v2h-4zM118 164h1v3h-1zM119 165h1v2h-1zM120 164h1v3h-1zM121 165h2v2h-2zM123 165h1v3h-1zM124 165h3v2h-3zM127 166h1v2h-1zM128 166h1v3h-1zM129 166h1v2h-1zM130 166h1v3h-1zM131 166h1v2h-1zM132 167h1v1h-1zM133 166h1v2h-1zM134 166h3v1h-3zM137 166h4v2h-4zM141 167h1v1h-1zM142 166h1v2h-1zM143 166h1v3h-1zM144 166h3v2h-3zM147 167h2v1h-2zM149 167h3v2h-3zM152 167h2v1h-2zM154 166h1v2h-1zM155 167h5v1h-5zM160 166h1v1h-1zM161 167h1v1h-1zM162 167h1v2h-1zM163 167h3v1h-3zM166 167h1v2h-1zM167 167h3v1h-3zM170 167h1v2h-1zM171 167h1v1h-1zM172 167h1v2h-1zM173 167h5v1h-5zM178 167h1v2h-1zM179 167h3v1h-3zM182 166h1v2h-1zM183 167h2v1h-2zM186 167h4v1h-4zM190 167h1v2h-1zM191 167h6v1h-6zM197 166h1v3h-1zM198 166h8v2h-8zM206 165h1v3h-1zM207 166h1v3h-1zM208 166h2v2h-2zM211 166h2v2h-2zM213 165h1v3h-1zM214 166h1v2h-1zM215 167h1v1h-1zM216 165h1v3h-1zM217 166h1v3h-1zM218 166h1v1h-1zM219 166h2v3h-2zM221 165h1v3h-1zM222 166h4v2h-4zM226 167h1v1h-1zM227 166h1v2h-1zM228 165h1v3h-1zM229 166h1v2h-1zM230 167h1v1h-1zM231 166h1v2h-1zM232 166h1v3h-1zM233 166h2v2h-2zM235 165h1v2h-1zM236 166h1v2h-1zM237 165h1v3h-1zM238 166h1v2h-1zM239 166h1v1h-1zM240 165h7v2h-7zM247 165h1v3h-1zM248 165h5v2h-5zM253 165h1v1h-1zM254 165h1v2h-1zM255 164h1v3h-1zM256 165h1v3h-1zM257 165h2v2h-2zM259 165h1v3h-1z"/>
<path fill="#000000" d="M50 10h1v1h-1zM51 9h1v1h-1zM52 10h1v1h-1zM53 9h1v1h-1zM54 10h1v1h-1zM55 1h1v9h-1zM56 2h1v1h-1zM57 1h1v1h-1zM58 2h1v1h-1zM59 1h1v1h-1zM60 2h1v8h-1zM61 10h1v1h-1zM62 9h1v1h-1zM63 10h1v1h-1zM64 9h1v1h-1zM65 10h1v1h-1zM66 9h1v1h-1zM67 10h1v1h-1zM116 16h1v1h-1zM117 16h1v2h-1zM118 16h1v3h-1zM119 13h1v7h-1zM120 16h1v3h-1zM121 16h1v2h-1zM122 16h1v1h-1z"/>
<path fill="#c00000" d="M100 3h1v5h-1zM101 2h1v7h-1zM102 1h5v9h-5zM107 2h1v7h-1zM108 3h1v5h-1z"/>
</g>
<g id="labels">
<text y="95.34" fill="#c00000" stroke="#c00000" stroke-width="1.6"><tspan x="685.1" textLength="87.03" lengthAdjust="spacingAndGlyphs">Acq</tspan> <tspan x="789.94" textLength="223.88" lengthAdjust="spacingAndGlyphs">Complete</tspan></text>
<text y="95.34" fill="#000000" stroke="#000000" stroke-width="1.6"><tspan x="1057.78" textLength="47.94" lengthAdjust="spacingAndGlyphs">M</tspan> <tspan x="1121.07" textLength="91.09" lengthAdjust="spacingAndGlyphs">Pos:</tspan> <tspan x="1228.02" textLength="190.27" lengthAdjust="spacingAndGlyphs">16.00ms</tspan></text>
<text y="95.34" fill="#000000" stroke="#000000" stroke-width="1.6"><tspan x="1576.65" textLength="214.01" lengthAdjust="spacingAndGlyphs">MEDIDAS</tspan></text>
<text y="179.87" fill="#ffa000" stroke="#ffa000" stroke-width="1.6"><tspan x="1635.26" textLength="88.4" lengthAdjust="spacingAndGlyphs">CH1</tspan></text>
<text y="247.49" fill="#ffa000" stroke="#ffa000" stroke-width="1.6"><tspan x="1526.58" textLength="106.11" lengthAdjust="spacingAndGlyphs">RMS</tspan> <tspan x="1652.41" textLength="66.42" lengthAdjust="spacingAndGlyphs">del</tspan> <tspan x="1736.26" textLength="105.45" lengthAdjust="spacingAndGlyphs">ciclo</tspan></text>
<text y="315.11" fill="#ffa000" stroke="#ffa000" stroke-width="1.6"><tspan x="1601.08" textLength="125.51" lengthAdjust="spacingAndGlyphs">2.63A</tspan> <tspan x="1737.7" textLength="24.43" lengthAdjust="spacingAndGlyphs">?</tspan></text>
<text y="405.27" fill="#00bfbf" stroke="#00bfbf" stroke-width="1.6"><tspan x="1635.12" textLength="93.74" lengthAdjust="spacingAndGlyphs">CH2</tspan></text>
<text y="472.89" fill="#00bfbf" stroke="#00bfbf" stroke-width="1.6"><tspan x="1526.58" textLength="106.11" lengthAdjust="spacingAndGlyphs">RMS</tspan> <tspan x="1652.41" textLength="66.42" lengthAdjust="spacingAndGlyphs">del</tspan> <tspan x="1736.26" textLength="105.45" lengthAdjust="spacingAndGlyphs">ciclo</tspan></text>
<text y="540.51" fill="#00bfbf" stroke="#00bfbf" stroke-width="1.6"><tspan x="1601.68" textLength="124.91" lengthAdjust="spacingAndGlyphs">3.97A</tspan> <tspan x="1737.7" textLength="24.43" lengthAdjust="spacingAndGlyphs">?</tspan></text>
<text y="630.67" fill="#bf00bf" stroke="#bf00bf" stroke-width="1.6"><tspan x="1635.13" textLength="93.42" lengthAdjust="spacingAndGlyphs">CH3</tspan></text>
<text y="698.29" fill="#bf00bf" stroke="#bf00bf" stroke-width="1.6"><tspan x="1526.58" textLength="106.11" lengthAdjust="spacingAndGlyphs">RMS</tspan> <tspan x="1652.41" textLength="66.42" lengthAdjust="spacingAndGlyphs">del</tspan> <tspan x="1736.26" textLength="105.45" lengthAdjust="spacingAndGlyphs">ciclo</tspan></text>
<text y="765.91" fill="#bf00bf" stroke="#bf00bf" stroke-width="1.6"><tspan x="1674.61" textLength="25.6" lengthAdjust="spacingAndGlyphs">?</tspan></text>
<text y="856.07" fill="#00bf00" stroke="#00bf00" stroke-width="1.6"><tspan x="1635.15" textLength="92.71" lengthAdjust="spacingAndGlyphs">CH4</tspan></text>
<text y="923.69" fill="#00bf00" stroke="#00bf00" stroke-width="1.6"><tspan x="1597.68" textLength="170.94" lengthAdjust="spacingAndGlyphs">Vmedio</tspan></text>
<text y="991.31" fill="#00bf00" stroke="#00bf00" stroke-width="1.6"><tspan x="1623.96" textLength="114.75" lengthAdjust="spacingAndGlyphs">888V</tspan></text>
<text y="1115.28" fill="#ffa000" stroke="#ffa000" stroke-width="1.6"><tspan x="1635.26" textLength="88.4" lengthAdjust="spacingAndGlyphs">CH1</tspan></text>
<text y="1182.9" fill="#ffa000" stroke="#ffa000" stroke-width="1.6"><tspan x="1588.05" textLength="183.85" lengthAdjust="spacingAndGlyphs">Ninguna</tspan></text>
<text y="1295.6" fill="#ffa000" stroke="#ffa000" stroke-width="1.6"><tspan x="51.26" textLength="88.4" lengthAdjust="spacingAndGlyphs">CH1</tspan> <tspan x="181.58" textLength="125.01" lengthAdjust="spacingAndGlyphs">50.0A</tspan></text>
<text y="1363.22" fill="#bf00bf" stroke="#bf00bf" stroke-width="1.6"><tspan x="51.1" textLength="94.47" lengthAdjust="spacingAndGlyphs">CH3</tspan> <tspan x="181.58" textLength="125.01" lengthAdjust="spacingAndGlyphs">50.0A</tspan></text>
<text y="1295.6" fill="#00bfbf" stroke="#00bfbf" stroke-width="1.6"><tspan x="423.1" textLength="94.47" lengthAdjust="spacingAndGlyphs">CH2</tspan> <tspan x="553.58" textLength="125.01" lengthAdjust="spacingAndGlyphs">50.0A</tspan></text>
<text y="1363.22" fill="#00bf00" stroke="#00bf00" stroke-width="1.6"><tspan x="423.13" textLength="93.44" lengthAdjust="spacingAndGlyphs">CH4</tspan> <tspan x="551.84" textLength="149.67" lengthAdjust="spacingAndGlyphs">1.00kV</tspan></text>
<text y="1295.6" fill="#000000" stroke="#000000" stroke-width="1.6"><tspan x="798.57" textLength="48.07" lengthAdjust="spacingAndGlyphs">M</tspan> <tspan x="862.72" textLength="161.87" lengthAdjust="spacingAndGlyphs">25.0ms</tspan></text>
<text y="1363.22" fill="#000000" stroke="#000000" stroke-width="1.6"><tspan x="801.06" textLength="26.43" lengthAdjust="spacingAndGlyphs">7</tspan><tspan x="826.57" textLength="36.96" lengthAdjust="spacingAndGlyphs">-</tspan><tspan x="865.01" textLength="81.58" lengthAdjust="spacingAndGlyphs">Jun</tspan><tspan x="944.71" textLength="37.37" lengthAdjust="spacingAndGlyphs">-</tspan><tspan x="981.28" textLength="54.34" lengthAdjust="spacingAndGlyphs">18</tspan> <tspan x="1053.25" textLength="123.19" lengthAdjust="spacingAndGlyphs">14:58</tspan></text>
<text y="1295.6" fill="#ffa000" stroke="#ffa000" stroke-width="1.6"><tspan x="1342.26" textLength="88.4" lengthAdjust="spacingAndGlyphs">CH1</tspan> <tspan x="1523.41" textLength="124.18" lengthAdjust="spacingAndGlyphs">46.0A</tspan></text>
<text y="1363.22" fill="#ffa000" stroke="#ffa000" stroke-width="1.6"><tspan x="1342.56" textLength="234.35" lengthAdjust="spacingAndGlyphs">50.0296Hz</tspan></text>
</g>
<text class="tek" y="107.3" style="font-size:85.5px" fill="#000"><tspan x="53.02" textLength="45.92" lengthAdjust="spacingAndGlyphs">T</tspan><tspan x="91.39" textLength="36.43" lengthAdjust="spacingAndGlyphs">e</tspan><tspan x="131.11" textLength="51.23" lengthAdjust="spacingAndGlyphs">k</tspan></text>
<text y="557.62" style="font-size:54px" fill="#bf00bf" stroke="#bf00bf" stroke-width="1.2"><tspan x="51.95" textLength="25.57" lengthAdjust="spacingAndGlyphs">3</tspan></text>
<text y="1121.11" style="font-size:54px" fill="#00bf00" stroke="#00bf00" stroke-width="1.2"><tspan x="52.71" textLength="24.06" lengthAdjust="spacingAndGlyphs">4</tspan></text>
</g>
<text class="ann" fill="#000"><tspan x="812.86" textLength="23.17" lengthAdjust="spacingAndGlyphs" y="223" style="font-size:86px">i</tspan><tspan x="836.2" textLength="40.2" lengthAdjust="spacingAndGlyphs" y="234.8" style="font-size:57px">ic</tspan></text>
<text class="arr" transform="translate(890.32 227.13) scale(0.86 1)" style="font-size:89.18px" fill="#000" stroke="#fff" stroke-width="1.7">↓</text>
<text class="ann" fill="#000"><tspan x="621.86" textLength="23.17" lengthAdjust="spacingAndGlyphs" y="352" style="font-size:86px">i</tspan><tspan x="646.18" textLength="43.63" lengthAdjust="spacingAndGlyphs" y="363.9" style="font-size:57px">ia</tspan></text>
<text class="arr" transform="translate(702.06 356.19) scale(0.86 1)" style="font-size:89.42px" fill="#000" stroke="#fff" stroke-width="1.7">↓</text>
<text class="ann" fill="#000"><tspan x="599.03" textLength="23.31" lengthAdjust="spacingAndGlyphs" y="752.9" style="font-size:86px">i</tspan><tspan x="621.87" textLength="43.73" lengthAdjust="spacingAndGlyphs" y="763.8" style="font-size:57px">ib</tspan></text>
<text class="arr" transform="translate(686.22 757.03) scale(0.86 1)" style="font-size:89.18px" fill="#000" stroke="#fff" stroke-width="1.7">↑</text>
<text class="ann" fill="#000"><tspan x="942.34" textLength="46.27" lengthAdjust="spacingAndGlyphs" y="1091.1" style="font-size:86px">V</tspan><tspan x="985.12" textLength="68.7" lengthAdjust="spacingAndGlyphs" y="1103.7" style="font-size:57px">C1</tspan></text>
<text class="arr" transform="translate(1072.05 1094.94) scale(0.86 1)" style="font-size:89.06px" fill="#000" stroke="#fff" stroke-width="1.7">↑</text>
</svg>
</body></html>
